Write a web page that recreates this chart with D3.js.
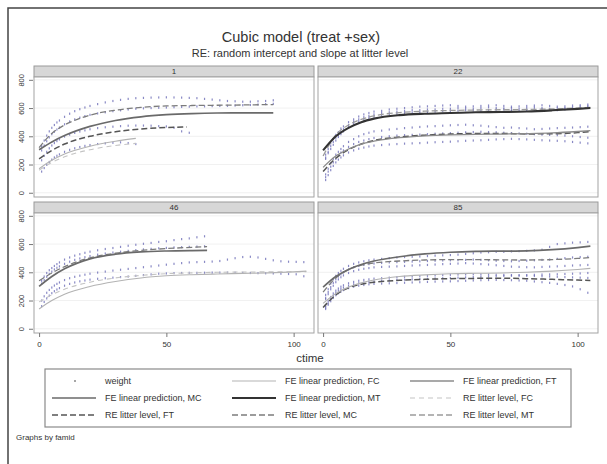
<!DOCTYPE html>
<html>
<head>
<meta charset="utf-8">
<script src="https://cdn.jsdelivr.net/npm/d3@7"></script>
<style>
  body { margin: 0; background: #fff; }
  text { font-family: Arial, "Liberation Sans", sans-serif; fill: #333; }
</style>
</head>
<body>
<div id="chart"></div>
<script>
// --- data -------------------------------------------------------------
const panelIds = ["1", "22", "46", "85"];
const yTicks = [0, 200, 400, 600, 800];
const xTicks = [0, 50, 100];

// measurement times shared by every litter (a litter uses the first N)
const tGrid = [1,2,3,4,5,6,7,8,10,12,14,16,18,20,23,26,29,32,35,38,41,44,47,50,53,56,59,62,65,68,71,74,77,80,83,86,89,92,95,98,101,104];

// observed weights, one array per litter
const w1a = [330,370,405,435,460,480,498,512,538,560,578,592,604,615,628,640,650,658,665,670,672,674,675,676,675,674,672,670,665,660,655,650,648,645,645,648,650,655];
const w1b = [300,335,365,392,415,432,448,462,485,505,520,532,543,552,562,570,578,584,590,595,598,600,602,604,606,608,610,612,612,614,615,616,618,620,622,625,628,630];
const w1c = [230,262,290,315,335,352,366,378,398,412,424,434,442,450,458,464,468,472,475,476,476,475,472,470,460,435,425];
const w1d = [150,175,198,218,235,250,262,272,290,304,315,324,332,338,345,350,354,357,352,345];

const w22a = [250,290,330,360,390,410,430,450,480,505,520,535,545,555,565,570,575,580,585,585,590,590,595,595,600,598,595,600,605,600,598,600,595,600,605,600,595,598,600,605,610,615];
const w22b = [240,280,310,340,370,395,415,435,465,490,505,520,530,540,548,555,560,565,568,570,572,575,578,580,582,585,583,580,585,588,590,585,580,585,590,592,588,585,590,595,600,605];
const w22c = [270,310,350,380,410,430,455,470,500,520,540,555,565,575,580,590,595,600,605,610,612,615,618,620,615,610,612,615,618,620,615,610,612,615,618,620,615,610,612,618,620,625];
const w22d = [130,170,210,240,270,290,310,330,360,380,400,415,425,435,440,448,452,458,462,466,470,472,475,478,480,482,478,475,470,465,460,462,458,455,450,452,455,458,460,462,465,468];
const w22e = [110,150,185,215,240,265,285,300,325,345,360,370,380,388,395,400,405,408,410,412,415,418,420,422,425,428,430,432,430,428,425,422,420,418,415,412,410,408,405,400,395,390];
const w22f = [90,125,160,190,215,235,250,265,285,300,312,320,328,334,338,342,345,348,350,352,355,358,360,362,365,368,370,372,375,378,380,382,380,378,375,372,370,368,365,360,355,350];

const w46a = [340,370,395,415,430,445,458,470,490,505,518,528,538,546,556,565,572,580,588,595,602,608,615,620,628,635,640,648,655];
const w46b = [320,345,368,388,405,420,432,442,460,475,488,498,507,515,525,533,540,546,552,557,562,566,570,573,576,578,580,582,584];
const w46c = [200,230,255,275,292,306,318,328,345,358,368,376,383,390,398,405,412,418,424,430,436,442,448,454,460,465,470,472,474,476,480,490,500,508,510,505,495,485,478,475,474,472];
const w46d = [160,190,215,235,252,266,278,288,305,318,328,336,342,348,354,358,362,366,370,375,380,385,390,392,394,395,396,396,397,398,398,398,397,396,395,394,393,392,390,388,386,372];

const w85a = [240,280,320,350,375,395,410,425,445,460,470,478,485,490,495,500,505,508,510,512,515,518,520,522,525,530,535,540,542,545,545,548,550,552,555,560,580,600,605,610,612,615];
const w85b = [220,260,295,325,350,370,385,400,420,435,445,452,458,462,466,470,472,474,476,478,480,482,484,485,486,488,490,488,485,482,480,478,480,482,485,488,490,495,500,505,508,510];
const w85c = [210,245,280,305,330,350,365,378,395,408,418,425,430,435,438,440,442,445,448,450,452,455,458,460,462,465,462,458,455,450,445,440,438,436,435,438,440,442,445,448,450,452];
const w85d = [150,180,210,235,255,270,282,292,305,315,322,328,332,336,340,343,346,348,350,352,354,356,358,360,362,364,366,368,370,372,374,376,378,380,382,384,385,386,388,390,392,395];
const w85e = [140,170,195,218,238,252,264,274,288,298,305,310,315,318,320,322,324,326,328,330,332,334,335,336,338,340,342,344,345,346,345,344,342,340,335,330,325,318,310,300,280,255];
const w85f = [160,195,225,250,270,285,298,308,322,332,340,346,350,355,358,362,365,368,370,372,375,378,380,382,384,385,386,385,384,383,382,380,378,376,374,372,370,368,366,364,362,360];

const litters = [
  { panel: "1", w: w1a }, { panel: "1", w: w1b }, { panel: "1", w: w1c }, { panel: "1", w: w1d },
  { panel: "22", w: w22a }, { panel: "22", w: w22b }, { panel: "22", w: w22c },
  { panel: "22", w: w22d }, { panel: "22", w: w22e }, { panel: "22", w: w22f },
  { panel: "46", w: w46a }, { panel: "46", w: w46b }, { panel: "46", w: w46c }, { panel: "46", w: w46d },
  { panel: "85", w: w85a }, { panel: "85", w: w85b }, { panel: "85", w: w85c },
  { panel: "85", w: w85d }, { panel: "85", w: w85e }, { panel: "85", w: w85f }
];

// fitted curves as [ctime, weight]
const fe1MC = [[0,305],[5,360],[10,405],[20,470],[30,512],[40,538],[50,553],[60,561],[70,565],[80,566],[92,566]];
const re1MC = [[0,320],[5,420],[10,480],[15,520],[20,550],[30,585],[40,605],[50,615],[60,618],[70,620],[80,622],[92,625]];
const fe1FC = [[0,170],[5,230],[10,275],[20,330],[30,365],[38,385]];
const re1FT = [[0,240],[5,300],[10,345],[20,400],[30,432],[40,452],[50,462],[58,466]];
const re1FC = [[0,160],[5,215],[10,255],[20,305],[30,335],[38,350]];

const fe22MT = [[0,300],[5,400],[10,460],[15,500],[20,525],[30,550],[40,560],[50,565],[60,570],[70,572],[80,576],[90,584],[100,594],[105,600]];
const re22MT = [[0,260],[5,410],[10,480],[15,520],[20,545],[30,568],[40,578],[50,583],[60,586],[70,588],[80,590],[90,594],[100,600],[105,604]];
const fe22FT = [[0,180],[5,260],[10,310],[15,345],[20,365],[30,390],[40,403],[50,410],[60,414],[70,416],[80,419],[90,424],[100,434],[105,440]];
const re22FT = [[0,150],[5,245],[10,305],[15,345],[20,370],[30,395],[40,408],[50,416],[60,420],[70,420],[80,417],[90,418],[100,426],[105,434]];

const fe46MC = [[0,300],[5,370],[10,425],[15,465],[20,495],[30,528],[40,544],[50,551],[60,554],[66,555]];
const re46MC = [[0,340],[5,395],[10,440],[15,475],[20,502],[30,535],[40,555],[50,568],[60,577],[66,582]];
const fe46FC = [[0,140],[5,200],[10,245],[20,300],[30,335],[40,360],[50,375],[60,383],[70,388],[80,392],[90,396],[100,403],[105,408]];
const re46FC = [[0,190],[5,240],[10,280],[20,330],[30,360],[40,378],[50,390],[60,396],[70,400],[80,402],[90,403],[100,404],[105,405]];

const fe85MC = [[0,295],[5,370],[10,420],[15,455],[20,480],[30,510],[40,530],[50,542],[60,548],[70,550],[80,552],[90,560],[100,575],[105,585]];
const re85MC = [[0,260],[5,360],[10,420],[15,450],[20,466],[30,480],[40,487],[50,490],[60,490],[70,488],[80,487],[90,490],[100,498],[105,505]];
const fe85FC = [[0,180],[5,250],[10,295],[15,325],[20,345],[30,370],[40,382],[50,390],[60,393],[70,395],[80,400],[90,408],[100,420],[105,428]];
const re85FT = [[0,150],[5,240],[10,290],[15,315],[20,330],[30,343],[40,350],[50,355],[60,357],[70,358],[80,355],[90,350],[100,345],[105,342]];

const curves = [
  { panel: "1", key: "reMC", pts: re1MC }, { panel: "1", key: "reFT", pts: re1FT },
  { panel: "1", key: "reFC", pts: re1FC }, { panel: "1", key: "feFC", pts: fe1FC },
  { panel: "1", key: "feMC", pts: fe1MC },
  { panel: "22", key: "reMT", pts: re22MT }, { panel: "22", key: "reFT", pts: re22FT },
  { panel: "22", key: "feFT", pts: fe22FT }, { panel: "22", key: "feMT", pts: fe22MT },
  { panel: "46", key: "reMC", pts: re46MC }, { panel: "46", key: "reFC", pts: re46FC },
  { panel: "46", key: "feFC", pts: fe46FC }, { panel: "46", key: "feMC", pts: fe46MC },
  { panel: "85", key: "reMC", pts: re85MC }, { panel: "85", key: "reFT", pts: re85FT },
  { panel: "85", key: "feFC", pts: fe85FC }, { panel: "85", key: "feMC", pts: fe85MC }
];

const legendLabels = [
  "weight", "FE linear prediction, FC", "FE linear prediction, FT",
  "FE linear prediction, MC", "FE linear prediction, MT", "RE litter level, FC",
  "RE litter level, FT", "RE litter level, MC", "RE litter level, MT"
];
const legendKeys = ["pt", "feFC", "feFT", "feMC", "feMT", "reFC", "reFT", "reMC", "reMT"];

// --- styles -------------------------------------------------------------
const styles = {
  feFC: { c: "#b3b3b3", w: 1.1, d: null },
  feFT: { c: "#8c8c8c", w: 1.3, d: null },
  feMC: { c: "#6a6a6a", w: 1.7, d: null },
  feMT: { c: "#333", w: 2.1, d: null },
  reFC: { c: "#c4c4c4", w: 1.1, d: "5,4" },
  reFT: { c: "#555", w: 1.5, d: "6,3" },
  reMC: { c: "#7c7c7c", w: 1.3, d: "6,3" },
  reMT: { c: "#9c9c9c", w: 1.3, d: "6,3" }
};
const dotColor = "#6c6cb6";

// --- layout -------------------------------------------------------------
const W = 607, H = 464;
const svg = d3.select("#chart").append("svg").attr("width", W).attr("height", H);

svg.append("rect").attr("width", W).attr("height", H).attr("fill", "#fff");
svg.append("path").attr("d", `M8,${H + 5}V8H${W + 5}`)
  .attr("fill", "none").attr("stroke", "#444").attr("stroke-width", 1.5);

svg.append("text").attr("x", 301).attr("y", 42).attr("text-anchor", "middle")
  .style("font-size", "14.5px").text("Cubic model (treat +sex)");
svg.append("text").attr("x", 300).attr("y", 57).attr("text-anchor", "middle")
  .style("font-size", "11px").text("RE: random intercept and slope at litter level");

const pw = 280, ph = 120, stripH = 11;
const cols = [34, 318], rows = [77, 213];

const x = d3.scaleLinear().domain([-2, 108]).range([0, pw]);
const y = d3.scaleLinear().domain([-30, 820]).range([ph, 0]);
const line = d3.line().x(d => x(d[0])).y(d => y(d[1])).curve(d3.curveMonotoneX);

panelIds.forEach((id, i) => {
  const px = cols[i % 2], py = rows[Math.floor(i / 2)];
  const g = svg.append("g").attr("transform", `translate(${px},${py})`);

  // strip
  g.append("rect").attr("x", 0).attr("y", -stripH).attr("width", pw).attr("height", stripH)
    .attr("fill", "#d7d7d7").attr("stroke", "#9a9a9a").attr("stroke-width", 1);
  g.append("text").attr("x", pw / 2).attr("y", -3).attr("text-anchor", "middle")
    .style("font-size", "8px").text(id);

  // plot area and light grid
  g.append("rect").attr("width", pw).attr("height", ph).attr("fill", "#fff");
  g.selectAll("line.grid").data(yTicks).join("line").attr("class", "grid")
    .attr("x1", 0).attr("x2", pw).attr("y1", d => y(d)).attr("y2", d => y(d))
    .attr("stroke", "#ececec").attr("stroke-width", 0.8);

  // points (small vertical ticks, like the blurred Stata point markers)
  litters.filter(l => l.panel === id).forEach(l => {
    g.append("g").selectAll("rect").data(l.w).join("rect")
      .attr("x", (d, k) => x(tGrid[k]) - 0.6).attr("y", d => y(d) - 1.1)
      .attr("width", 1.2).attr("height", 2.2)
      .attr("fill", dotColor).attr("opacity", 0.8);
  });

  // fitted curves
  curves.filter(c => c.panel === id).forEach(c => {
    const s = styles[c.key];
    g.append("path").attr("d", line(c.pts)).attr("fill", "none")
      .attr("stroke", s.c).attr("stroke-width", s.w).attr("stroke-dasharray", s.d);
  });

  g.append("rect").attr("width", pw).attr("height", ph).attr("fill", "none")
    .attr("stroke", "#a3a3a3").attr("stroke-width", 1);

  // axes on the outer edges only
  if (i % 2 === 0) {
    const ya = g.append("g").attr("transform", "translate(-1,0)")
      .call(d3.axisLeft(y).tickValues(yTicks).tickSize(4).tickFormat(d3.format("d")));
    ya.select(".domain").remove();
    ya.selectAll("line").attr("stroke", "#777");
    ya.selectAll("text").attr("transform", "rotate(-90)").attr("x", 0).attr("y", -9)
      .attr("dy", 0).attr("text-anchor", "middle").style("font-size", "7.5px")
      .style("font-family", "Arial, 'Liberation Sans', sans-serif").attr("fill", "#333");
  }
  if (i >= 2) {
    const xa = g.append("g").attr("transform", `translate(0,${ph})`)
      .call(d3.axisBottom(x).tickValues(xTicks).tickSize(4));
    xa.select(".domain").remove();
    xa.selectAll("line").attr("stroke", "#777");
    xa.selectAll("text").attr("y", 8).style("font-size", "8px")
      .style("font-family", "Arial, 'Liberation Sans', sans-serif").attr("fill", "#333");
  }
});

svg.append("text").attr("x", 310).attr("y", 362).attr("text-anchor", "middle")
  .style("font-size", "11.5px").text("ctime");

// --- legend -------------------------------------------------------------
const lg = svg.append("g");
lg.append("rect").attr("x", 45).attr("y", 369).attr("width", 526).attr("height", 58)
  .attr("fill", "#fff").attr("stroke", "#8a8a8a").attr("stroke-width", 1.2);
const colX = [52, 232, 410], rowY = [381, 398, 415];
legendKeys.forEach((k, i) => {
  const cx = colX[i % 3], cy = rowY[Math.floor(i / 3)];
  if (k === "pt") {
    lg.append("circle").attr("cx", cx + 23).attr("cy", cy).attr("r", 1).attr("fill", "#888");
  } else {
    const s = styles[k];
    lg.append("line").attr("x1", cx).attr("x2", cx + 44).attr("y1", cy).attr("y2", cy)
      .attr("stroke", s.c).attr("stroke-width", s.w).attr("stroke-dasharray", s.d);
  }
  lg.append("text").attr("x", cx + 53).attr("y", cy + 3).style("font-size", "9px")
    .text(legendLabels[i]);
});

svg.append("text").attr("x", 16).attr("y", 440).style("font-size", "8px").text("Graphs by famid");
</script>
</body>
</html>
